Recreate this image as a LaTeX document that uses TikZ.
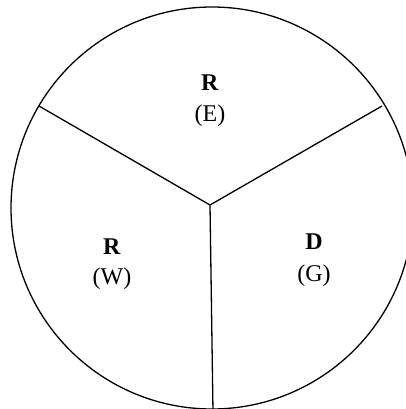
\documentclass[tikz,border=0pt]{standalone}
\usepackage{fontspec}
\setmainfont{Liberation Serif}
\begin{document}
\begin{tikzpicture}[x=1pt,y=-1pt,
  edge/.style={line width=1.3pt,black},
  lbl/.style={font=\fontsize{24}{28}\selectfont,inner sep=0pt,align=center}]
\useasboundingbox (0,0) rectangle (406,409);
\clip (0,0) rectangle (406,409);
\fill[white] (0,0) rectangle (406,409);
\draw[edge] (212,208) circle[radius=201];
\coordinate (c) at (210,205);
\coordinate (pl) at (39,106);
\coordinate (pr) at (382,106);
\coordinate (pb) at (213,412);
\draw[edge] (c) -- (pl);
\draw[edge] (c) -- (pr);
\draw[edge] (c) -- (pb);
\node[lbl] (e1) at (210,83) {\textbf{R}};
\node[lbl] (e2) at (210,116) {(E)};
\node[lbl] (w1) at (112,247) {\textbf{R}};
\node[lbl] (w2) at (112,279) {(W)};
\node[lbl] (g1) at (314,242) {\textbf{D}};
\node[lbl] (g2) at (314,276) {(G)};
\end{tikzpicture}
\end{document}
